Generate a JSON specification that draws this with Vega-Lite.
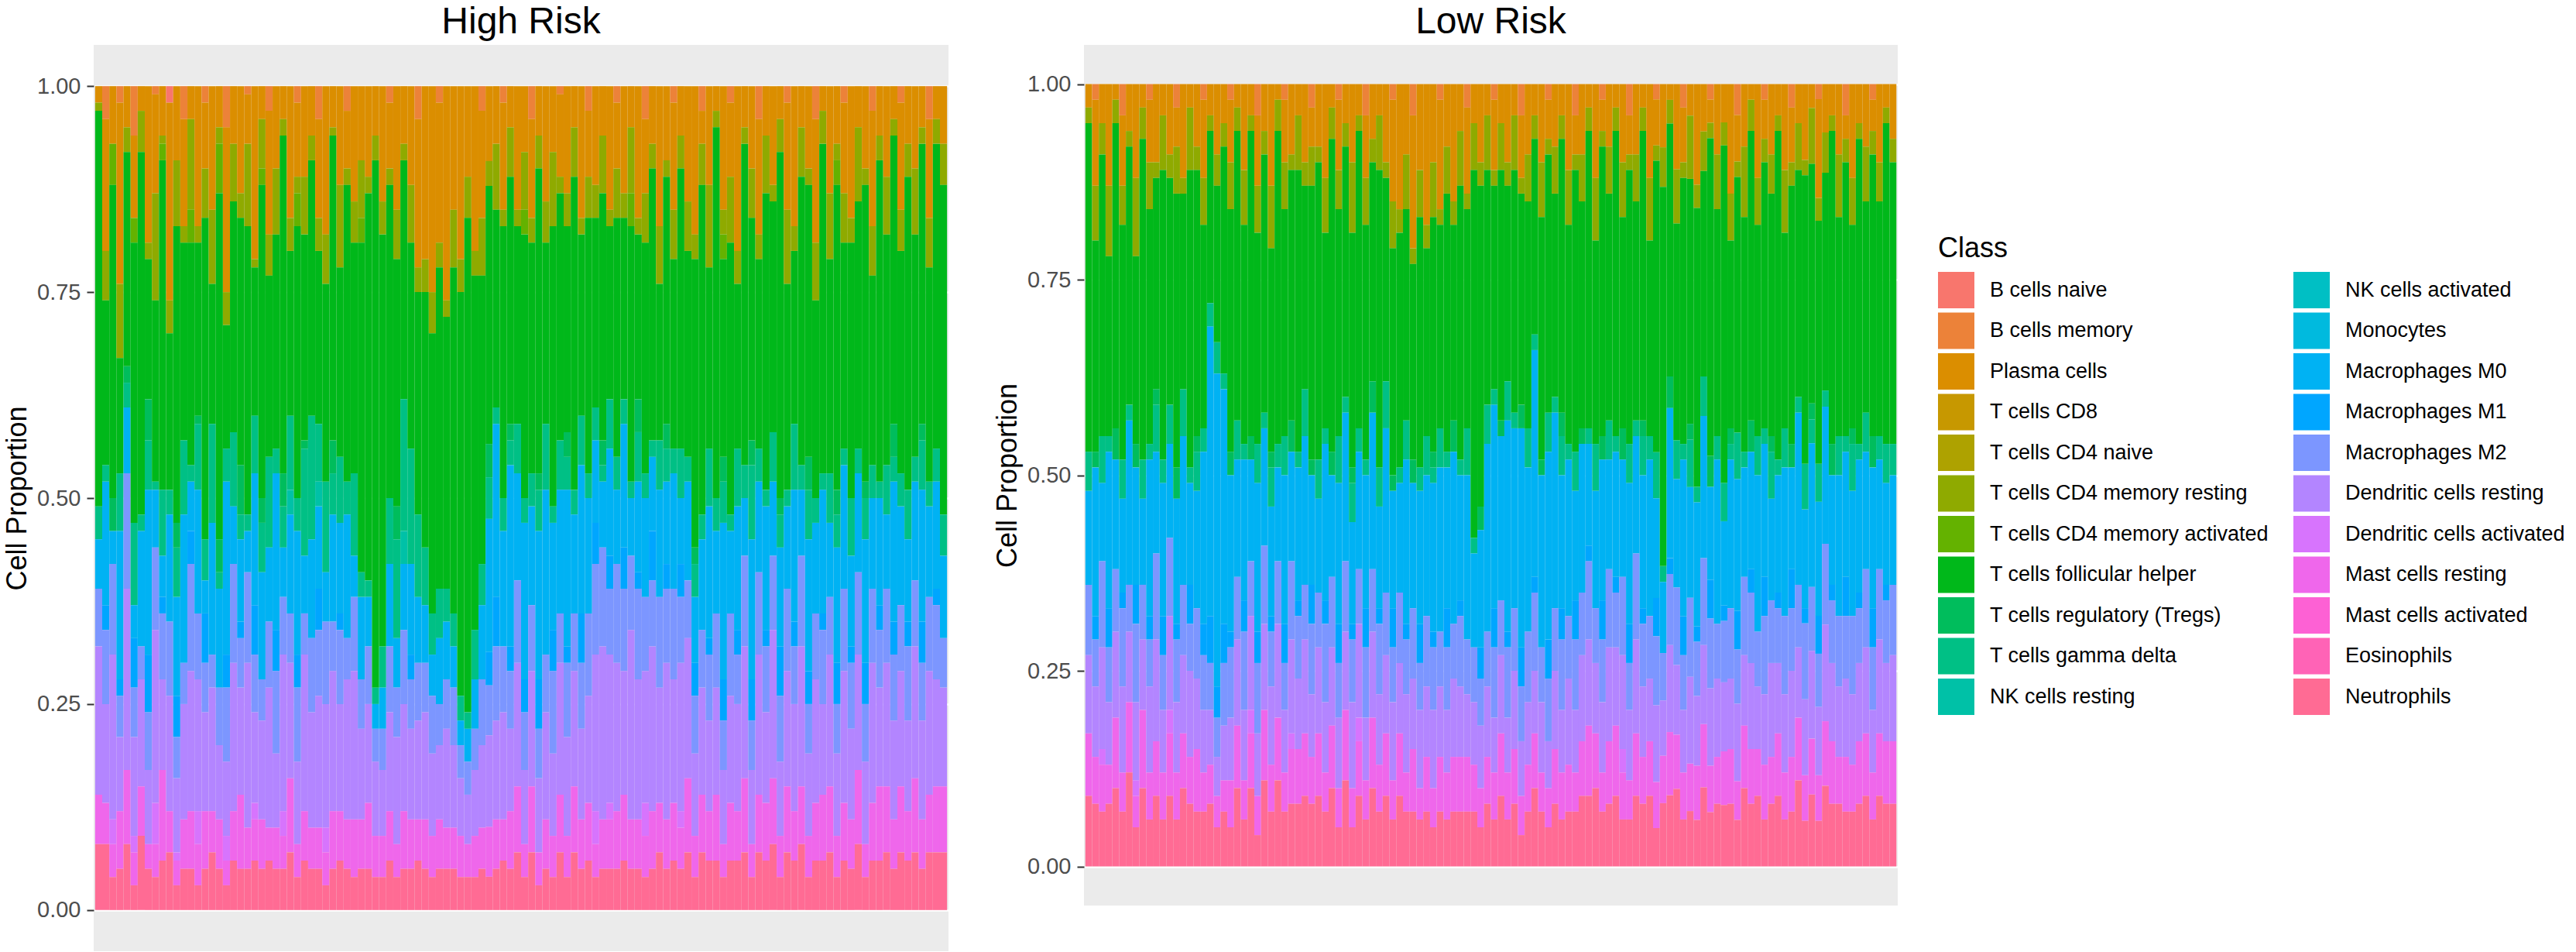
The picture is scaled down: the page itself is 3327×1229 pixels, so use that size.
{
  "$schema": "https://vega.github.io/schema/vega-lite/v6.json",
  "background": "white",
  "padding": {"left": 4, "top": 5, "right": 0, "bottom": 0},
  "config": {
    "font": "Liberation Sans",
    "view": {"fill": "#EBEBEB", "stroke": null},
    "concat": {"spacing": 58},
    "title": {"fontSize": 48, "fontWeight": "normal", "color": "#000000", "anchor": "middle", "offset": 5},
    "axisY": {
      "labelFontSize": 29,
      "labelColor": "#4D4D4D",
      "tickColor": "#333333",
      "tickSize": 9,
      "tickWidth": 2,
      "labelPadding": 8,
      "domain": false,
      "grid": true,
      "gridColor": "#FFFFFF",
      "gridWidth": 2.5,
      "titleFontSize": 36,
      "titleFontWeight": "normal",
      "titleColor": "#000000",
      "titlePadding": 6
    },
    "legend": {
      "orient": "none",
      "legendX": 2382,
      "legendY": 246,
      "columns": 2,
      "symbolType": "square",
      "symbolSize": 2209,
      "symbolStrokeWidth": 0,
      "symbolOpacity": 1,
      "labelFontSize": 27,
      "labelColor": "#000000",
      "labelLimit": 1000,
      "labelOffset": 20,
      "columnPadding": 31,
      "rowPadding": 5.5,
      "titleFontSize": 36,
      "titleFontWeight": "normal",
      "titleColor": "#000000",
      "titlePadding": 11
    }
  },
  "datasets": {
    "classes": [
      {"code": "Bn", "Class": "B cells naive", "rank": 1},
      {"code": "Bm", "Class": "B cells memory", "rank": 2},
      {"code": "Pc", "Class": "Plasma cells", "rank": 3},
      {"code": "C8", "Class": "T cells CD8", "rank": 4},
      {"code": "Cn", "Class": "T cells CD4 naive", "rank": 5},
      {"code": "Mr", "Class": "T cells CD4 memory resting", "rank": 6},
      {"code": "Ma", "Class": "T cells CD4 memory activated", "rank": 7},
      {"code": "Tf", "Class": "T cells follicular helper", "rank": 8},
      {"code": "Tr", "Class": "T cells regulatory (Tregs)", "rank": 9},
      {"code": "Gd", "Class": "T cells gamma delta", "rank": 10},
      {"code": "Nr", "Class": "NK cells resting", "rank": 11},
      {"code": "Na", "Class": "NK cells activated", "rank": 12},
      {"code": "Mo", "Class": "Monocytes", "rank": 13},
      {"code": "M0", "Class": "Macrophages M0", "rank": 14},
      {"code": "M1", "Class": "Macrophages M1", "rank": 15},
      {"code": "M2", "Class": "Macrophages M2", "rank": 16},
      {"code": "Dr", "Class": "Dendritic cells resting", "rank": 17},
      {"code": "Da", "Class": "Dendritic cells activated", "rank": 18},
      {"code": "Ms", "Class": "Mast cells resting", "rank": 19},
      {"code": "Sa", "Class": "Mast cells activated", "rank": 20},
      {"code": "Eo", "Class": "Eosinophils", "rank": 21},
      {"code": "Ne", "Class": "Neutrophils", "rank": 22}
    ],
    "high": [
      {"s":1,"Pc":2,"Mr":1,"Tf":48,"Gd":4,"M0":6,"M2":7,"Dr":18,"Ms":6,"Ne":8},
      {"s":2,"Bm":4,"Pc":16,"Mr":6,"Tf":20,"Gd":2,"M0":15,"M1":3,"M2":9,"Dr":12,"Ms":5,"Ne":8},
      {"s":3,"Pc":7,"Ma":5,"Tf":38,"Tr":4,"M0":4,"M2":11,"Dr":20,"Da":3,"Ms":4,"Ne":4},
      {"s":4,"Bm":2,"Pc":22,"Mr":9,"Tf":14,"Gd":7,"M0":18,"M1":2,"M2":5,"Dr":9,"Ms":7,"Ne":5},
      {"s":5,"Pc":5,"Mr":3,"Tf":26,"Tr":2,"Gd":3,"M0":8,"M2":14,"Dr":22,"Ms":9,"Ne":8},
      {"s":6,"Bm":6,"Pc":10,"Ma":3,"Tf":34,"Gd":10,"M0":4,"M1":6,"M2":6,"Dr":12,"Da":2,"Ms":4,"Ne":3},
      {"s":7,"Pc":3,"Mr":5,"Tf":44,"Gd":2,"M0":14,"M2":4,"Dr":13,"Ms":6,"Ne":9},
      {"s":8,"Pc":19,"Mr":2,"Tf":17,"Tr":5,"Gd":6,"M0":20,"M1":7,"M2":7,"Dr":9,"Ms":3,"Ne":5},
      {"s":9,"Bm":1,"Pc":12,"Mr":13,"Tf":22,"Gd":1,"M0":7,"M2":10,"Dr":21,"Da":5,"Ms":4,"Ne":4},
      {"s":10,"Pc":6,"Mr":1,"Ma":2,"Tf":40,"Gd":8,"M0":5,"M1":2,"M2":8,"Dr":11,"Ms":11,"Ne":6},
      {"s":11,"Bn":2,"Pc":24,"Mr":4,"Tf":19,"Gd":3,"M0":13,"M2":9,"Dr":14,"Ms":5,"Ne":7},
      {"s":12,"Pc":9,"Mr":8,"Tf":36,"Tr":3,"Gd":6,"M0":12,"M1":5,"M2":5,"Dr":9,"Da":1,"Ms":3,"Ne":3},
      {"s":13,"Bm":4,"Pc":13,"Mr":2,"Tf":24,"Gd":9,"M0":18,"M2":5,"Dr":14,"Ms":6,"Ne":5},
      {"s":14,"Pc":4,"Mr":11,"Ma":4,"Tf":27,"Gd":2,"M0":6,"M1":4,"M2":13,"Dr":17,"Ms":7,"Ne":5},
      {"s":15,"Pc":17,"Mr":2,"Tf":21,"Tr":1,"Gd":8,"M0":15,"M2":8,"Dr":16,"Da":4,"Ms":5,"Ne":3},
      {"s":16,"Bm":2,"Pc":8,"Mr":6,"Tf":39,"Gd":5,"M0":4,"M1":6,"M2":6,"Dr":12,"Ms":7,"Ne":5},
      {"s":17,"Pc":15,"Mr":9,"Tf":17,"Gd":12,"M0":16,"M2":4,"Dr":15,"Ms":5,"Ne":7},
      {"s":18,"Pc":5,"Mr":2,"Ma":6,"Tf":42,"Tr":4,"Gd":2,"M0":12,"M2":7,"Dr":9,"Ms":6,"Ne":5},
      {"s":19,"Bm":5,"Pc":20,"Mr":4,"Tf":15,"Gd":4,"M0":21,"M1":4,"M2":9,"Dr":9,"Da":3,"Ms":3,"Ne":3},
      {"s":20,"Pc":7,"Mr":7,"Tf":28,"Gd":9,"M0":7,"M2":12,"Dr":18,"Ms":6,"Ne":6},
      {"s":21,"Pc":13,"Mr":3,"Tf":30,"Tr":6,"Gd":3,"M0":10,"M1":2,"M2":6,"Dr":13,"Ms":9,"Ne":5},
      {"s":22,"Bm":1,"Pc":6,"Mr":10,"Tf":35,"Gd":2,"M0":5,"M2":11,"Dr":20,"Ms":5,"Ne":5},
      {"s":23,"Pc":21,"Mr":1,"Tf":18,"Gd":7,"M0":16,"M1":6,"M2":7,"Dr":11,"Da":2,"Ms":5,"Ne":6},
      {"s":24,"Pc":4,"Mr":6,"Ma":2,"Tf":38,"Tr":3,"Gd":6,"M0":13,"M2":5,"Dr":12,"Ms":6,"Ne":5},
      {"s":25,"Bm":3,"Pc":15,"Mr":5,"Tf":22,"Gd":11,"M0":9,"M2":8,"Dr":17,"Ms":4,"Ne":6},
      {"s":26,"Pc":10,"Mr":8,"Tf":26,"Gd":3,"M0":19,"M1":5,"M2":10,"Dr":9,"Ms":5,"Ne":5},
      {"s":27,"Pc":4,"Mr":2,"Tf":41,"Tr":4,"Gd":5,"M0":6,"M2":7,"Dr":19,"Da":3,"Ms":4,"Ne":5},
      {"s":28,"Pc":16,"Mr":4,"Tf":20,"Gd":9,"Nr":3,"M0":12,"M2":6,"Dr":14,"Ms":9,"Ne":7},
      {"s":29,"Bm":2,"Pc":9,"Mr":2,"Ma":4,"Tf":33,"Gd":4,"M0":15,"M1":4,"M2":9,"Dr":10,"Ms":4,"Ne":4},
      {"s":30,"Pc":11,"Mr":7,"Tf":25,"Tr":1,"Gd":13,"M0":7,"M2":5,"Dr":19,"Ms":6,"Ne":6},
      {"s":31,"Pc":6,"Mr":3,"Tf":31,"Gd":15,"M0":12,"M2":9,"Dr":14,"Ms":5,"Ne":5},
      {"s":32,"Bm":4,"Pc":12,"Mr":4,"Tf":21,"Gd":7,"Nr":3,"M0":10,"M1":5,"M2":8,"Dr":16,"Ms":5,"Ne":5},
      {"s":33,"Pc":18,"Mr":6,"Tf":24,"Gd":11,"M0":6,"M2":10,"Dr":15,"Da":3,"Ms":4,"Ne":3},
      {"s":34,"Pc":5,"Mr":1,"Tf":37,"Tr":4,"Gd":5,"M0":13,"M2":6,"Dr":17,"Ms":7,"Ne":5},
      {"s":35,"Pc":12,"Mr":10,"Tf":23,"Gd":8,"M0":11,"M1":2,"M2":9,"Dr":13,"Ms":6,"Ne":6},
      {"s":36,"Bm":3,"Pc":7,"Mr":2,"Tf":36,"Gd":4,"M0":15,"M2":5,"Dr":17,"Ms":6,"Ne":5},
      {"s":37,"Pc":14,"Mr":5,"Tf":28,"Gd":10,"M0":5,"M2":9,"Dr":18,"Ms":7,"Ne":4},
      {"s":38,"Pc":9,"Mr":7,"Ma":3,"Tf":40,"Gd":3,"M0":10,"M2":6,"Dr":11,"Ms":6,"Ne":5},
      {"s":39,"Pc":11,"Mr":2,"Tf":47,"Gd":2,"M0":6,"M2":7,"Dr":12,"Ms":8,"Ne":5},
      {"s":40,"Pc":6,"Mr":3,"Tf":64,"Gd":2,"M0":3,"M2":4,"Dr":9,"Ms":5,"Ne":4},
      {"s":41,"Pc":14,"Mr":4,"Tf":50,"Gd":5,"M0":5,"M2":5,"Dr":8,"Ms":5,"Ne":4},
      {"s":42,"Bm":2,"Pc":8,"Mr":2,"Tf":38,"Gd":8,"M0":10,"M2":8,"Dr":12,"Ms":6,"Ne":6},
      {"s":43,"Pc":15,"Mr":6,"Tf":30,"Tr":4,"Gd":12,"M0":6,"M2":6,"Dr":13,"Ms":4,"Ne":4},
      {"s":44,"Pc":7,"Mr":2,"Tf":29,"Gd":16,"Nr":4,"M0":8,"M2":9,"Dr":13,"Ms":7,"Ne":5},
      {"s":45,"Pc":12,"Mr":7,"Tf":25,"Gd":14,"M0":11,"M1":3,"M2":6,"Dr":11,"Ms":6,"Ne":5},
      {"s":46,"Bm":4,"Pc":18,"Mr":3,"Tf":27,"Gd":10,"M0":8,"M2":7,"Dr":12,"Ms":5,"Ne":6},
      {"s":47,"Pc":21,"Mr":4,"Tf":31,"Gd":7,"M0":7,"M2":6,"Dr":13,"Ms":6,"Ne":5},
      {"s":48,"Pc":25,"Mr":5,"Tf":34,"Gd":5,"M0":5,"M2":7,"Dr":10,"Ms":5,"Ne":4},
      {"s":49,"Bm":2,"Pc":17,"Mr":3,"Tf":39,"Gd":6,"M0":8,"M2":5,"Dr":9,"Ms":6,"Ne":5},
      {"s":50,"Pc":26,"Mr":2,"Tf":33,"Gd":4,"M0":7,"M2":6,"Dr":12,"Ms":5,"Ne":5},
      {"s":51,"Pc":15,"Mr":7,"Tf":42,"Gd":4,"M0":5,"M2":7,"Dr":10,"Ms":5,"Ne":5},
      {"s":52,"Pc":21,"Mr":4,"Tf":49,"Gd":3,"M0":3,"M2":4,"Dr":7,"Ms":5,"Ne":4},
      {"s":53,"Pc":11,"Mr":5,"Tf":60,"Gd":2,"M0":4,"M2":4,"Dr":6,"Ms":4,"Ne":4},
      {"s":54,"Pc":20,"Mr":3,"Tf":43,"Gd":6,"M0":6,"M2":5,"Dr":8,"Ms":5,"Ne":4},
      {"s":55,"Bm":3,"Pc":13,"Mr":7,"Tf":35,"Gd":5,"M0":9,"M2":8,"Dr":10,"Ms":5,"Ne":5},
      {"s":56,"Pc":9,"Mr":3,"Tf":31,"Tr":4,"Gd":5,"M0":16,"M1":4,"M2":6,"Dr":11,"Ms":6,"Ne":4},
      {"s":57,"Pc":7,"Mr":8,"Tf":24,"Gd":2,"M0":21,"M1":6,"M2":9,"Dr":12,"Ms":6,"Ne":5},
      {"s":58,"Bm":2,"Pc":13,"Mr":2,"Tf":33,"Gd":4,"M0":14,"M2":8,"Dr":13,"Ms":5,"Ne":6},
      {"s":59,"Pc":5,"Mr":6,"Tf":30,"Tr":2,"Gd":3,"M0":22,"M1":3,"M2":7,"Dr":10,"Ms":7,"Ne":5},
      {"s":60,"Pc":15,"Mr":2,"Tf":24,"Gd":6,"M0":13,"M2":10,"Dr":15,"Ms":8,"Ne":7},
      {"s":61,"Pc":8,"Mr":7,"Ma":3,"Tf":32,"Gd":3,"M0":19,"M1":4,"M2":7,"Dr":9,"Ms":4,"Ne":4},
      {"s":62,"Bm":4,"Pc":12,"Mr":3,"Tf":28,"Gd":4,"M0":12,"M2":8,"Dr":14,"Ms":8,"Ne":7},
      {"s":63,"Pc":6,"Mr":4,"Tf":37,"Tr":2,"Gd":5,"M0":18,"M1":6,"M2":6,"Dr":9,"Ms":4,"Ne":3},
      {"s":64,"Pc":14,"Mr":5,"Tf":22,"Gd":8,"M0":20,"M2":7,"Dr":13,"Ms":6,"Ne":5},
      {"s":65,"Pc":8,"Mr":9,"Tf":34,"Gd":2,"M0":13,"M1":5,"M2":10,"Dr":10,"Ms":5,"Ne":4},
      {"s":66,"Bm":1,"Pc":10,"Mr":2,"Tf":30,"Gd":6,"M0":15,"M2":6,"Dr":16,"Ms":7,"Ne":7},
      {"s":67,"Pc":13,"Mr":4,"Tf":25,"Tr":3,"Gd":4,"M0":19,"M1":2,"M2":9,"Dr":12,"Ms":5,"Ne":4},
      {"s":68,"Pc":5,"Mr":6,"Tf":38,"Gd":3,"M0":12,"M2":7,"Dr":14,"Ms":8,"Ne":7},
      {"s":69,"Pc":16,"Mr":2,"Tf":22,"Gd":6,"M0":18,"M1":6,"M2":8,"Dr":11,"Ms":6,"Ne":5},
      {"s":70,"Bm":3,"Pc":8,"Mr":5,"Tf":31,"Gd":3,"M0":14,"M2":10,"Dr":13,"Ms":7,"Ne":6},
      {"s":71,"Pc":12,"Mr":4,"Tf":23,"Gd":4,"M0":10,"M1":5,"M2":11,"Dr":19,"Da":4,"Ms":4,"Ne":4},
      {"s":72,"Pc":6,"Mr":7,"Tf":30,"Tr":3,"Gd":2,"M0":8,"M2":12,"Dr":21,"Ms":6,"Ne":5},
      {"s":73,"Pc":15,"Mr":2,"Tf":21,"Gd":6,"M0":13,"M1":4,"M2":8,"Dr":18,"Da":2,"Ms":6,"Ne":5},
      {"s":74,"Bm":2,"Pc":8,"Mr":6,"Tf":29,"Gd":4,"M0":9,"M2":12,"Dr":18,"Ms":7,"Ne":5},
      {"s":75,"Pc":13,"Mr":3,"Tf":22,"Gd":3,"M0":15,"M1":5,"M2":10,"Dr":15,"Ms":8,"Ne":6},
      {"s":76,"Pc":5,"Mr":8,"Ma":4,"Tf":31,"Gd":2,"M0":7,"M2":9,"Dr":23,"Ms":6,"Ne":5},
      {"s":77,"Pc":16,"Mr":2,"Tf":20,"Tr":4,"Gd":6,"M0":11,"M1":2,"M2":11,"Dr":17,"Ms":6,"Ne":5},
      {"s":78,"Bm":4,"Pc":9,"Mr":6,"Tf":28,"Gd":3,"M0":12,"M2":9,"Dr":16,"Da":4,"Ms":5,"Ne":4},
      {"s":79,"Pc":7,"Mr":3,"Tf":33,"Gd":2,"M0":9,"M1":6,"M2":8,"Dr":20,"Ms":7,"Ne":5},
      {"s":80,"Pc":17,"Mr":7,"Tf":19,"Gd":6,"M0":13,"M2":11,"Dr":14,"Ms":6,"Ne":7},
      {"s":81,"Pc":9,"Mr":2,"Tf":30,"Tr":3,"Gd":4,"M0":10,"M1":3,"M2":9,"Dr":19,"Ms":6,"Ne":5},
      {"s":82,"Bm":2,"Pc":13,"Mr":6,"Tf":23,"Gd":3,"M0":14,"M2":11,"Dr":15,"Ms":7,"Ne":6},
      {"s":83,"Pc":6,"Mr":4,"Tf":34,"Gd":6,"M0":8,"M1":4,"M2":8,"Dr":18,"Da":2,"Ms":5,"Ne":5},
      {"s":84,"Pc":14,"Mr":6,"Tf":25,"Gd":3,"M0":12,"M2":7,"Dr":17,"Ms":9,"Ne":7},
      {"s":85,"Pc":18,"Mr":3,"Tf":35,"Tr":2,"Gd":4,"M0":8,"M1":4,"M2":7,"Dr":10,"Ms":5,"Ne":4},
      {"s":86,"Bm":3,"Pc":4,"Mr":5,"Tf":40,"Gd":3,"M0":11,"M2":7,"Dr":13,"Ms":7,"Ne":7},
      {"s":87,"Pc":12,"Mr":10,"Tf":22,"Gd":7,"M0":16,"M1":2,"M2":8,"Dr":11,"Ms":6,"Ne":6},
      {"s":88,"Pc":3,"Mr":2,"Tf":45,"Gd":4,"M0":10,"M2":9,"Dr":13,"Ms":8,"Ne":6},
      {"s":89,"Pc":15,"Mr":3,"Ma":3,"Tf":24,"Tr":3,"Gd":5,"M0":19,"M1":5,"M2":6,"Dr":9,"Ms":4,"Ne":4},
      {"s":90,"Bm":2,"Pc":9,"Mr":8,"Tf":33,"Gd":2,"M0":10,"M2":10,"Dr":13,"Ms":7,"Ne":6},
      {"s":91,"Pc":20,"Mr":4,"Tf":20,"Gd":7,"M0":15,"M1":3,"M2":6,"Dr":13,"Ms":6,"Ne":6},
      {"s":92,"Pc":5,"Mr":2,"Tf":39,"Gd":4,"M0":7,"M2":11,"Dr":16,"Ms":9,"Ne":7},
      {"s":93,"Pc":10,"Mr":6,"Tf":27,"Tr":3,"Gd":9,"M0":17,"M1":5,"M2":6,"Dr":9,"Ms":4,"Ne":4},
      {"s":94,"Bm":4,"Pc":14,"Mr":3,"Tf":23,"Gd":4,"M0":11,"M2":10,"Dr":17,"Ms":7,"Ne":7},
      {"s":95,"Pc":6,"Mr":7,"Tf":36,"Gd":2,"M0":15,"M1":2,"M2":8,"Dr":11,"Ms":7,"Ne":6},
      {"s":96,"Pc":12,"Mr":2,"Tf":28,"Gd":6,"M0":9,"M2":9,"Dr":18,"Ms":8,"Ne":8},
      {"s":97,"Pc":4,"Mr":4,"Tf":42,"Tr":2,"Gd":4,"M0":12,"M1":6,"M2":8,"Dr":9,"Ms":5,"Ne":4},
      {"s":98,"Bm":2,"Pc":13,"Mr":9,"Tf":25,"Gd":2,"M0":10,"M2":10,"Dr":14,"Ms":8,"Ne":7},
      {"s":99,"Pc":17,"Mr":3,"Tf":21,"Gd":8,"M0":16,"M1":3,"M2":7,"Dr":13,"Ms":6,"Ne":6},
      {"s":100,"Pc":5,"Mr":6,"Tf":35,"Gd":3,"M0":8,"M2":11,"Dr":17,"Ms":7,"Ne":8},
      {"s":101,"Pc":10,"Mr":2,"Tf":33,"Tr":4,"Gd":6,"M0":16,"M1":4,"M2":6,"Dr":10,"Ms":5,"Ne":4},
      {"s":102,"Bm":4,"Pc":15,"Mr":7,"Tf":24,"Gd":3,"M0":11,"M2":8,"Dr":15,"Ms":7,"Ne":6},
      {"s":103,"Pc":3,"Mr":4,"Tf":40,"Gd":2,"M0":15,"M1":2,"M2":9,"Dr":11,"Ms":8,"Ne":6},
      {"s":104,"Pc":13,"Mr":8,"Tf":26,"Gd":6,"M0":9,"M2":7,"Dr":16,"Ms":8,"Ne":7},
      {"s":105,"Pc":7,"Mr":2,"Ma":3,"Tf":37,"Tr":3,"Gd":4,"M0":14,"M1":5,"M2":6,"Dr":10,"Ms":5,"Ne":4},
      {"s":106,"Bm":2,"Pc":11,"Mr":6,"Tf":25,"Gd":2,"M0":15,"M2":10,"Dr":16,"Ms":7,"Ne":6},
      {"s":107,"Pc":16,"Mr":3,"Tf":31,"Gd":7,"M0":11,"M1":2,"M2":8,"Dr":11,"Ms":6,"Ne":5},
      {"s":108,"Pc":5,"Mr":9,"Tf":30,"Gd":3,"M0":12,"M2":10,"Dr":14,"Ms":9,"Ne":8},
      {"s":109,"Pc":10,"Mr":2,"Tf":36,"Tr":2,"Gd":5,"M0":15,"M1":5,"M2":7,"Dr":10,"Ms":4,"Ne":4},
      {"s":110,"Bm":3,"Pc":14,"Mr":6,"Tf":23,"Gd":4,"M0":11,"M2":9,"Dr":17,"Ms":7,"Ne":6},
      {"s":111,"Pc":6,"Mr":3,"Tf":39,"Gd":2,"M0":13,"M1":3,"M2":7,"Dr":12,"Ms":9,"Ne":6},
      {"s":112,"Pc":11,"Mr":7,"Tf":28,"Gd":6,"M0":9,"M2":9,"Dr":15,"Ms":8,"Ne":7},
      {"s":113,"Pc":4,"Mr":2,"Tf":35,"Tr":4,"Gd":3,"M0":17,"M1":4,"M2":8,"Dr":12,"Ms":6,"Ne":5},
      {"s":114,"Bm":2,"Pc":13,"Mr":5,"Tf":27,"Gd":4,"M0":12,"M2":8,"Dr":14,"Ms":8,"Ne":7},
      {"s":115,"Pc":7,"Mr":4,"Tf":38,"Gd":6,"M0":10,"M1":3,"M2":9,"Dr":11,"Ms":6,"Ne":6},
      {"s":116,"Pc":10,"Mr":8,"Tf":27,"Gd":3,"M0":12,"M2":8,"Dr":16,"Ms":9,"Ne":7},
      {"s":117,"Pc":5,"Mr":2,"Tf":34,"Tr":2,"Gd":6,"M0":16,"M1":5,"M2":7,"Dr":12,"Ms":6,"Ne":5},
      {"s":118,"Bm":4,"Pc":12,"Mr":6,"Tf":26,"Gd":3,"M0":11,"M2":9,"Dr":15,"Ms":7,"Ne":7},
      {"s":119,"Pc":4,"Mr":3,"Tf":37,"Gd":4,"M0":13,"M1":2,"M2":9,"Dr":13,"Ms":8,"Ne":7},
      {"s":120,"Pc":7,"Mr":5,"Tf":40,"Gd":5,"M0":10,"M2":6,"Dr":12,"Ms":8,"Ne":7}
    ],
    "low": [
      {"s":1,"Pc":3,"Mr":2,"Tf":42,"Gd":5,"M0":12,"M2":9,"Dr":10,"Ms":8,"Ne":9},
      {"s":2,"Bm":2,"Pc":11,"Mr":7,"Tf":27,"Tr":2,"M0":19,"M1":3,"M2":6,"Dr":9,"Ms":6,"Ne":8},
      {"s":3,"Pc":5,"Mr":4,"Tf":36,"Gd":6,"M0":10,"M2":11,"Dr":13,"Da":2,"Ms":6,"Ne":7},
      {"s":4,"Pc":13,"Mr":9,"Tf":23,"Gd":2,"M0":20,"M1":5,"M2":7,"Dr":8,"Ms":5,"Ne":8},
      {"s":5,"Pc":2,"Mr":3,"Tf":39,"Tr":4,"M0":14,"M2":8,"Dr":11,"Ms":9,"Ne":10},
      {"s":6,"Bm":4,"Pc":9,"Mr":5,"Tf":30,"Gd":5,"M0":12,"M1":2,"M2":10,"Dr":11,"Ms":5,"Ne":7},
      {"s":7,"Pc":6,"Mr":2,"Tf":33,"Gd":2,"M0":21,"M2":6,"Dr":9,"Ms":9,"Ne":12},
      {"s":8,"Pc":12,"Mr":10,"Tf":24,"Tr":3,"M0":15,"M1":5,"M2":10,"Dr":10,"Da":2,"Ms":4,"Ne":5},
      {"s":9,"Pc":3,"Mr":4,"Tf":41,"Gd":5,"M0":11,"M2":7,"Dr":9,"Ms":10,"Ne":10},
      {"s":10,"Bm":2,"Pc":8,"Mr":6,"Tf":30,"Gd":2,"M0":20,"M1":3,"M2":6,"Dr":11,"Ms":6,"Ne":6},
      {"s":11,"Pc":10,"Mr":2,"Tf":27,"Tr":2,"Gd":6,"M0":13,"M2":11,"Dr":13,"Ms":7,"Ne":9},
      {"s":12,"Pc":4,"Mr":7,"Tf":37,"Gd":3,"M0":17,"M1":5,"M2":7,"Dr":8,"Ms":6,"Ne":6},
      {"s":13,"Pc":9,"Mr":3,"Tf":29,"Gd":5,"M0":12,"M2":10,"Dr":12,"Da":3,"Ms":8,"Ne":9},
      {"s":14,"Bm":3,"Pc":5,"Mr":6,"Tf":35,"Tr":4,"M0":16,"M1":2,"M2":8,"Dr":9,"Ms":6,"Ne":6},
      {"s":15,"Pc":12,"Mr":2,"Tf":25,"Gd":6,"M0":19,"M2":9,"Dr":10,"Ms":7,"Ne":10},
      {"s":16,"Pc":3,"Mr":8,"Tf":38,"Gd":2,"M0":13,"M1":5,"M2":6,"Dr":11,"Ms":6,"Ne":8},
      {"s":17,"Pc":8,"Mr":3,"Tf":34,"Tr":2,"Gd":5,"M0":15,"M2":9,"Dr":9,"Ms":8,"Ne":7},
      {"s":18,"Bm":2,"Pc":10,"Mr":6,"Tf":26,"Gd":3,"M0":22,"M1":4,"M2":7,"Dr":8,"Ms":5,"Ne":7},
      {"s":19,"Pc":4,"Mr":2,"Tf":22,"Gd":3,"M0":37,"M1":6,"M2":6,"Dr":7,"Ms":5,"Ne":8},
      {"s":20,"Pc":9,"Mr":4,"Tf":20,"Gd":4,"M0":40,"M1":4,"M2":5,"Dr":5,"Ms":4,"Ne":5},
      {"s":21,"Pc":5,"Mr":3,"Tf":29,"Gd":2,"M0":30,"M1":5,"M2":8,"Dr":7,"Ms":4,"Ne":7},
      {"s":22,"Bm":2,"Pc":8,"Mr":6,"Tf":31,"Tr":3,"M0":20,"M1":2,"M2":9,"Dr":8,"Ms":6,"Ne":5},
      {"s":23,"Pc":3,"Mr":3,"Tf":37,"Gd":5,"M0":15,"M2":8,"Dr":11,"Ms":8,"Ne":10},
      {"s":24,"Pc":11,"Mr":7,"Tf":28,"Gd":2,"M0":18,"M1":4,"M2":10,"Dr":9,"Ms":5,"Ne":6},
      {"s":25,"Pc":4,"Mr":2,"Tf":39,"Tr":3,"M0":13,"M2":7,"Dr":12,"Da":3,"Ms":7,"Ne":10},
      {"s":26,"Bm":4,"Pc":9,"Mr":6,"Tf":27,"Gd":5,"M0":19,"M1":4,"M2":9,"Dr":8,"Ms":5,"Ne":4},
      {"s":27,"Pc":6,"Mr":3,"Tf":33,"Gd":2,"M0":15,"M2":10,"Dr":11,"Ms":9,"Ne":11},
      {"s":28,"Pc":13,"Mr":8,"Tf":26,"Tr":2,"Gd":5,"M0":14,"M1":2,"M2":7,"Dr":10,"Ms":6,"Ne":7},
      {"s":29,"Pc":2,"Mr":4,"Tf":40,"Gd":3,"M0":12,"M2":8,"Dr":12,"Ms":8,"Ne":11},
      {"s":30,"Bm":2,"Pc":8,"Mr":6,"Tf":29,"Gd":5,"M0":19,"M1":5,"M2":6,"Dr":8,"Ms":5,"Ne":7},
      {"s":31,"Pc":9,"Mr":2,"Tf":32,"Tr":4,"M0":14,"M2":10,"Dr":12,"Da":2,"Ms":7,"Ne":8},
      {"s":32,"Pc":4,"Mr":7,"Tf":36,"Gd":2,"M0":17,"M1":2,"M2":8,"Dr":9,"Ms":7,"Ne":8},
      {"s":33,"Pc":10,"Mr":3,"Tf":26,"Gd":6,"M0":19,"M2":7,"Dr":12,"Ms":8,"Ne":9},
      {"s":34,"Bm":3,"Pc":5,"Mr":5,"Tf":35,"Tr":2,"M0":14,"M1":5,"M2":9,"Dr":8,"Ms":6,"Ne":8},
      {"s":35,"Pc":8,"Mr":2,"Tf":38,"Gd":5,"M0":12,"M2":7,"Dr":11,"Ms":8,"Ne":9},
      {"s":36,"Pc":12,"Mr":7,"Tf":25,"Gd":2,"M0":20,"M1":3,"M2":10,"Dr":9,"Ms":5,"Ne":7},
      {"s":37,"Pc":3,"Mr":4,"Tf":40,"Tr":3,"M0":13,"M2":9,"Dr":10,"Ms":8,"Ne":10},
      {"s":38,"Bm":2,"Pc":9,"Mr":5,"Tf":29,"Gd":6,"M0":18,"M1":5,"M2":7,"Dr":9,"Ms":5,"Ne":5},
      {"s":39,"Pc":5,"Mr":3,"Tf":32,"Gd":2,"M0":19,"M2":9,"Dr":10,"Ms":9,"Ne":11},
      {"s":40,"Pc":10,"Mr":9,"Tf":30,"Tr":2,"Gd":5,"M0":13,"M1":2,"M2":8,"Dr":11,"Ms":5,"Ne":5},
      {"s":41,"Pc":4,"Mr":2,"Tf":38,"Gd":3,"M0":15,"M2":7,"Dr":12,"Da":3,"Ms":7,"Ne":9},
      {"s":42,"Bm":4,"Pc":8,"Mr":6,"Tf":30,"Gd":2,"M0":17,"M1":5,"M2":9,"Dr":8,"Ms":5,"Ne":6},
      {"s":43,"Pc":7,"Mr":3,"Tf":28,"Tr":4,"M0":20,"M2":8,"Dr":11,"Ms":9,"Ne":10},
      {"s":44,"Pc":4,"Mr":7,"Tf":38,"Gd":5,"M0":13,"M1":2,"M2":9,"Dr":9,"Ms":6,"Ne":7},
      {"s":45,"Pc":10,"Mr":2,"Tf":26,"Gd":6,"M0":21,"M2":8,"Dr":10,"Ms":8,"Ne":9},
      {"s":46,"Bm":2,"Pc":13,"Mr":6,"Tf":29,"Tr":2,"M0":15,"M1":5,"M2":7,"Dr":10,"Ms":5,"Ne":6},
      {"s":47,"Pc":16,"Mr":3,"Tf":30,"Gd":2,"M0":14,"M2":9,"Dr":9,"Ms":8,"Ne":9},
      {"s":48,"Pc":9,"Mr":7,"Tf":27,"Gd":5,"M0":21,"M1":2,"M2":7,"Dr":10,"Ms":5,"Ne":7},
      {"s":49,"Bm":4,"Pc":17,"Mr":2,"Tf":25,"Tr":3,"M0":16,"M2":9,"Dr":9,"Ms":8,"Ne":7},
      {"s":50,"Pc":11,"Mr":6,"Tf":32,"Gd":3,"M0":17,"M1":5,"M2":6,"Dr":10,"Ms":4,"Ne":6},
      {"s":51,"Pc":18,"Mr":3,"Tf":24,"Gd":5,"M0":18,"M2":9,"Dr":9,"Ms":7,"Ne":7},
      {"s":52,"Pc":10,"Mr":7,"Tf":30,"Tr":2,"Gd":2,"M0":19,"M1":2,"M2":8,"Dr":10,"Ms":5,"Ne":5},
      {"s":53,"Bm":2,"Pc":14,"Mr":2,"Tf":26,"Gd":5,"M0":21,"M2":7,"Dr":9,"Ms":7,"Ne":7},
      {"s":54,"Pc":8,"Mr":6,"Tf":33,"Gd":2,"M0":18,"M1":5,"M2":8,"Dr":8,"Ms":6,"Ne":6},
      {"s":55,"Pc":15,"Mr":3,"Tf":25,"Tr":4,"M0":22,"M2":7,"Dr":10,"Ms":7,"Ne":7},
      {"s":56,"Pc":6,"Mr":7,"Tf":35,"Gd":2,"M0":16,"M1":2,"M2":9,"Dr":9,"Ms":7,"Ne":7},
      {"s":57,"Bm":3,"Pc":11,"Mr":2,"Tf":28,"Gd":6,"M0":21,"M2":7,"Dr":8,"Ms":7,"Ne":7},
      {"s":58,"Pc":5,"Mr":6,"Tf":47,"Gd":2,"M0":12,"M2":7,"Dr":8,"Ms":6,"Ne":7},
      {"s":59,"Pc":10,"Mr":3,"Tf":41,"Tr":3,"M0":15,"M1":4,"M2":6,"Dr":8,"Ms":5,"Ne":5},
      {"s":60,"Pc":4,"Mr":7,"Tf":30,"Gd":5,"M0":24,"M2":7,"Dr":9,"Ms":6,"Ne":8},
      {"s":61,"Bm":2,"Pc":9,"Mr":2,"Tf":26,"Gd":2,"M0":26,"M1":5,"M2":9,"Dr":7,"Ms":6,"Ne":6},
      {"s":62,"Pc":5,"Mr":6,"Tf":32,"Tr":2,"M0":21,"M2":7,"Dr":10,"Ms":8,"Ne":9},
      {"s":63,"Pc":10,"Mr":3,"Tf":25,"Gd":5,"M0":27,"M1":2,"M2":9,"Dr":7,"Ms":6,"Ne":6},
      {"s":64,"Pc":4,"Mr":7,"Tf":31,"Gd":2,"M0":23,"M2":8,"Dr":10,"Ms":7,"Ne":8},
      {"s":65,"Bm":4,"Pc":8,"Mr":2,"Tf":27,"Tr":3,"M0":28,"M1":5,"M2":7,"Dr":7,"Ms":5,"Ne":4},
      {"s":66,"Pc":9,"Mr":6,"Tf":29,"Gd":5,"M0":21,"M2":9,"Dr":8,"Ms":6,"Ne":7},
      {"s":67,"Pc":4,"Mr":3,"Tf":25,"Gd":2,"M0":29,"M1":2,"M2":10,"Dr":8,"Ms":7,"Ne":10},
      {"s":68,"Pc":10,"Mr":7,"Tf":31,"Tr":2,"M0":22,"M2":7,"Dr":9,"Ms":5,"Ne":7},
      {"s":69,"Bm":2,"Pc":5,"Mr":2,"Tf":33,"Gd":5,"M0":24,"M1":5,"M2":8,"Dr":6,"Ms":5,"Ne":5},
      {"s":70,"Pc":8,"Mr":6,"Tf":26,"Gd":2,"M0":25,"M2":8,"Dr":10,"Ms":7,"Ne":8},
      {"s":71,"Pc":4,"Mr":3,"Tf":35,"Tr":3,"Gd":5,"M0":17,"M1":4,"M2":9,"Dr":8,"Ms":6,"Ne":6},
      {"s":72,"Pc":11,"Mr":7,"Tf":28,"Gd":2,"M0":20,"M2":8,"Dr":11,"Ms":6,"Ne":7},
      {"s":73,"Bm":4,"Pc":5,"Mr":2,"Tf":36,"Gd":5,"M0":14,"M1":5,"M2":9,"Dr":8,"Ms":5,"Ne":7},
      {"s":74,"Pc":9,"Mr":6,"Tf":29,"Tr":2,"M0":19,"M2":8,"Dr":11,"Ms":7,"Ne":9},
      {"s":75,"Pc":3,"Mr":3,"Tf":38,"Gd":2,"M0":13,"M1":2,"M2":10,"Dr":11,"Ms":9,"Ne":9},
      {"s":76,"Pc":12,"Mr":8,"Tf":26,"Gd":6,"M0":15,"M2":7,"Dr":9,"Ms":7,"Ne":10},
      {"s":77,"Bm":2,"Pc":4,"Mr":2,"Tf":37,"Tr":3,"M0":18,"M1":5,"M2":8,"Dr":9,"Ms":5,"Ne":7},
      {"s":78,"Pc":8,"Mr":6,"Tf":29,"Gd":5,"M0":14,"M2":10,"Dr":12,"Ms":8,"Ne":8},
      {"s":79,"Pc":3,"Mr":3,"Tf":39,"Gd":2,"M0":16,"M1":2,"M2":7,"Dr":10,"Ms":9,"Ne":9},
      {"s":80,"Pc":10,"Mr":7,"Tf":27,"Tr":4,"M0":15,"M2":10,"Dr":12,"Da":3,"Ms":6,"Ne":6},
      {"s":81,"Bm":4,"Pc":5,"Mr":2,"Tf":35,"Gd":5,"M0":18,"M1":5,"M2":6,"Dr":9,"Ms":5,"Ne":6},
      {"s":82,"Pc":9,"Mr":6,"Tf":28,"Gd":2,"M0":15,"M2":11,"Dr":12,"Ms":8,"Ne":9},
      {"s":83,"Pc":3,"Mr":3,"Tf":37,"Tr":2,"Gd":5,"M0":17,"M1":2,"M2":8,"Dr":9,"Ms":6,"Ne":8},
      {"s":84,"Pc":12,"Mr":8,"Tf":25,"Gd":3,"M0":20,"M2":8,"Dr":8,"Ms":7,"Ne":9},
      {"s":85,"Bm":2,"Pc":6,"Mr":2,"Tf":38,"Gd":6,"M0":13,"M1":5,"M2":9,"Dr":10,"Ms":6,"Ne":5},
      {"s":86,"Pc":8,"Mr":5,"Tf":48,"Gd":2,"M0":9,"M2":6,"Dr":7,"Ms":6,"Ne":8},
      {"s":87,"Pc":2,"Mr":3,"Tf":32,"Tr":4,"M0":19,"M1":2,"M2":9,"Dr":11,"Ms":8,"Ne":9},
      {"s":88,"Pc":11,"Mr":7,"Tf":28,"Gd":5,"M0":14,"M2":10,"Dr":9,"Ms":7,"Ne":10},
      {"s":89,"Bm":3,"Pc":7,"Mr":2,"Tf":34,"Gd":2,"M0":20,"M1":5,"M2":7,"Dr":8,"Ms":6,"Ne":6},
      {"s":90,"Pc":4,"Mr":8,"Tf":31,"Tr":2,"Gd":6,"M0":14,"M2":10,"Dr":11,"Ms":6,"Ne":7},
      {"s":91,"Pc":13,"Mr":3,"Tf":36,"Gd":2,"M0":16,"M1":2,"M2":7,"Dr":9,"Ms":7,"Ne":6},
      {"s":92,"Pc":6,"Mr":5,"Tf":26,"Gd":5,"M0":18,"M2":11,"Dr":10,"Ms":8,"Ne":10},
      {"s":93,"Bm":2,"Pc":3,"Mr":2,"Tf":41,"Tr":4,"M0":12,"M1":5,"M2":9,"Dr":10,"Ms":6,"Ne":7},
      {"s":94,"Pc":9,"Mr":7,"Tf":29,"Gd":3,"M0":21,"M2":7,"Dr":10,"Ms":6,"Ne":8},
      {"s":95,"Pc":5,"Mr":3,"Tf":44,"Gd":5,"M0":11,"M1":2,"M2":8,"Dr":9,"Ms":7,"Ne":8},
      {"s":96,"Pc":14,"Mr":6,"Tf":24,"Tr":2,"Gd":2,"M0":19,"M2":9,"Dr":9,"Ms":7,"Ne":8},
      {"s":97,"Bm":4,"Pc":6,"Mr":2,"Tf":33,"Gd":6,"M0":17,"M1":5,"M2":7,"Dr":10,"Ms":5,"Ne":6},
      {"s":98,"Pc":8,"Mr":9,"Tf":30,"Gd":2,"M0":14,"M2":10,"Dr":9,"Ms":8,"Ne":10},
      {"s":99,"Pc":2,"Mr":4,"Tf":37,"Tr":4,"M0":15,"M1":3,"M2":9,"Dr":11,"Ms":7,"Ne":8},
      {"s":100,"Pc":12,"Mr":6,"Tf":27,"Gd":5,"M0":20,"M2":7,"Dr":8,"Ms":6,"Ne":9},
      {"s":101,"Bm":2,"Pc":5,"Mr":3,"Tf":34,"Gd":2,"M0":17,"M1":5,"M2":10,"Dr":9,"Ms":7,"Ne":6},
      {"s":102,"Pc":9,"Mr":5,"Tf":31,"Tr":2,"Gd":6,"M0":13,"M2":8,"Dr":12,"Ms":6,"Ne":8},
      {"s":103,"Pc":4,"Mr":2,"Tf":42,"Gd":2,"M0":15,"M1":2,"M2":7,"Dr":9,"Ms":8,"Ne":9},
      {"s":104,"Pc":11,"Mr":8,"Tf":25,"Gd":5,"M0":19,"M2":10,"Dr":10,"Ms":6,"Ne":6},
      {"s":105,"Bm":3,"Pc":7,"Mr":3,"Tf":33,"Tr":3,"M0":13,"M1":5,"M2":8,"Dr":11,"Ms":7,"Ne":7},
      {"s":106,"Pc":5,"Mr":6,"Tf":29,"Gd":2,"M0":22,"M2":8,"Dr":9,"Ms":8,"Ne":11},
      {"s":107,"Pc":10,"Mr":2,"Tf":38,"Gd":6,"M0":13,"M1":2,"M2":10,"Dr":10,"Ms":6,"Ne":6},
      {"s":108,"Pc":3,"Mr":7,"Tf":30,"Tr":2,"Gd":3,"M0":18,"M2":8,"Dr":11,"Ms":7,"Ne":9},
      {"s":109,"Bm":2,"Pc":13,"Mr":3,"Tf":32,"Gd":5,"M0":15,"M1":5,"M2":7,"Dr":9,"Ms":6,"Ne":6},
      {"s":110,"Pc":6,"Mr":5,"Tf":27,"Gd":2,"M0":17,"M2":10,"Dr":12,"Ms":8,"Ne":10},
      {"s":111,"Pc":4,"Mr":2,"Tf":40,"Tr":4,"M0":14,"M1":2,"M2":8,"Dr":10,"Ms":8,"Ne":8},
      {"s":112,"Pc":9,"Mr":8,"Tf":28,"Gd":5,"M0":18,"M2":9,"Dr":9,"Ms":6,"Ne":8},
      {"s":113,"Bm":4,"Pc":3,"Mr":3,"Tf":35,"Gd":2,"M0":16,"M1":5,"M2":8,"Dr":10,"Ms":7,"Ne":7},
      {"s":114,"Pc":12,"Mr":6,"Tf":26,"Tr":2,"Gd":6,"M0":16,"M2":10,"Dr":9,"Ms":6,"Ne":7},
      {"s":115,"Pc":5,"Mr":2,"Tf":39,"Gd":2,"M0":17,"M1":2,"M2":7,"Dr":10,"Ms":8,"Ne":8},
      {"s":116,"Pc":8,"Mr":7,"Tf":27,"Gd":5,"M0":15,"M2":10,"Dr":11,"Ms":8,"Ne":9},
      {"s":117,"Bm":2,"Pc":4,"Mr":3,"Tf":36,"Tr":4,"M0":18,"M1":5,"M2":8,"Dr":8,"Ms":6,"Ne":6},
      {"s":118,"Pc":10,"Mr":5,"Tf":30,"Gd":3,"M0":14,"M2":9,"Dr":12,"Ms":8,"Ne":9},
      {"s":119,"Pc":3,"Mr":2,"Tf":41,"Gd":5,"M0":13,"M1":2,"M2":8,"Dr":10,"Ms":8,"Ne":8},
      {"s":120,"Pc":7,"Mr":3,"Tf":36,"Gd":4,"M0":14,"M2":9,"Dr":11,"Ms":8,"Ne":8}
    ]
  },
  "hconcat": [
    {
      "title": "High Risk",
      "width": 1104,
      "height": 1170,
      "data": {"name": "high"},
      "transform": [
        {"fold": ["Bn","Bm","Pc","C8","Cn","Mr","Ma","Tf","Tr","Gd","Nr","Na","Mo","M0","M1","M2","Dr","Da","Ms","Sa","Eo","Ne"], "as": ["code", "value"]},
        {"filter": "isValid(datum.value)"},
        {"lookup": "code", "from": {"data": {"name": "classes"}, "key": "code", "fields": ["Class", "rank"]}}
      ],
      "mark": {"type": "bar"},
      "encoding": {
        "x": {"field": "s", "type": "ordinal", "axis": null, "scale": {"paddingInner": 0, "paddingOuter": 0.2}},
        "y": {
          "field": "value", "type": "quantitative", "stack": "normalize", "title": "Cell Proportion",
          "scale": {"domain": [-0.05, 1.05], "nice": false, "zero": false},
          "axis": {"values": [0, 0.25, 0.5, 0.75, 1], "labelExpr": "format(datum.value, '.2f')"}
        },
        "color": {
          "field": "Class", "type": "nominal",
          "scale": {
            "domain": ["B cells naive","B cells memory","Plasma cells","T cells CD8","T cells CD4 naive","T cells CD4 memory resting","T cells CD4 memory activated","T cells follicular helper","T cells regulatory (Tregs)","T cells gamma delta","NK cells resting","NK cells activated","Monocytes","Macrophages M0","Macrophages M1","Macrophages M2","Dendritic cells resting","Dendritic cells activated","Mast cells resting","Mast cells activated","Eosinophils","Neutrophils"],
            "range": ["#F8766D","#EC8239","#DB8E00","#C79800","#AEA200","#8FAA00","#64B200","#00B81A","#00BD5C","#00C085","#00C1A7","#00BFC4","#00BADE","#00B2F3","#00A6FF","#7C96FF","#B385FF","#D774FD","#EF67EB","#FD61D4","#FF63B6","#FF6B94"]
          },
          "legend": {"title": "Class"}
        },
        "order": {"field": "rank", "type": "quantitative", "sort": "descending"}
      }
    },
    {
      "title": "Low Risk",
      "width": 1051,
      "height": 1111,
      "data": {"name": "low"},
      "transform": [
        {"fold": ["Bn","Bm","Pc","C8","Cn","Mr","Ma","Tf","Tr","Gd","Nr","Na","Mo","M0","M1","M2","Dr","Da","Ms","Sa","Eo","Ne"], "as": ["code", "value"]},
        {"filter": "isValid(datum.value)"},
        {"lookup": "code", "from": {"data": {"name": "classes"}, "key": "code", "fields": ["Class", "rank"]}}
      ],
      "mark": {"type": "bar"},
      "encoding": {
        "x": {"field": "s", "type": "ordinal", "axis": null, "scale": {"paddingInner": 0, "paddingOuter": 0.2}},
        "y": {
          "field": "value", "type": "quantitative", "stack": "normalize", "title": "Cell Proportion",
          "scale": {"domain": [-0.05, 1.05], "nice": false, "zero": false},
          "axis": {"values": [0, 0.25, 0.5, 0.75, 1], "labelExpr": "format(datum.value, '.2f')"}
        },
        "color": {
          "field": "Class", "type": "nominal",
          "scale": {
            "domain": ["B cells naive","B cells memory","Plasma cells","T cells CD8","T cells CD4 naive","T cells CD4 memory resting","T cells CD4 memory activated","T cells follicular helper","T cells regulatory (Tregs)","T cells gamma delta","NK cells resting","NK cells activated","Monocytes","Macrophages M0","Macrophages M1","Macrophages M2","Dendritic cells resting","Dendritic cells activated","Mast cells resting","Mast cells activated","Eosinophils","Neutrophils"],
            "range": ["#F8766D","#EC8239","#DB8E00","#C79800","#AEA200","#8FAA00","#64B200","#00B81A","#00BD5C","#00C085","#00C1A7","#00BFC4","#00BADE","#00B2F3","#00A6FF","#7C96FF","#B385FF","#D774FD","#EF67EB","#FD61D4","#FF63B6","#FF6B94"]
          },
          "legend": {"title": "Class"}
        },
        "order": {"field": "rank", "type": "quantitative", "sort": "descending"}
      }
    }
  ],
  "resolve": {"scale": {"color": "shared"}, "legend": {"color": "shared"}}
}
